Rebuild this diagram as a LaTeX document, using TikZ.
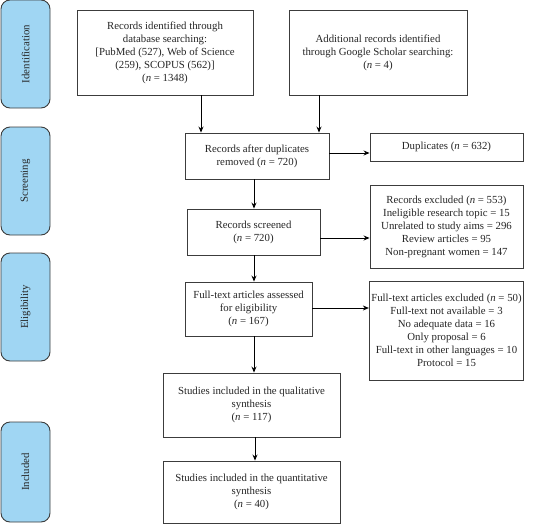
\documentclass[tikz,border=0pt]{standalone}
\usepackage{fontspec}
\setmainfont{Liberation Serif}
\usetikzlibrary{arrows.meta}
\definecolor{phase}{RGB}{160,214,243}
\definecolor{edge}{RGB}{60,60,60}
\tikzset{
  flowbox/.style={draw=edge, line width=0.9pt, fill=white, align=center, inner sep=2pt,
    font=\fontsize{10.8}{13}\selectfont, text=black!85},
  phasebox/.style={draw=edge, line width=0.9pt, fill=phase, rounded corners=9pt,
    minimum width=49pt},
  phaselabel/.style={rotate=90, font=\fontsize{10.8}{13}\selectfont, text=black!85},
  arr/.style={draw=black, line width=0.9pt, -{Stealth[length=6pt,width=5pt]}}
}
\newcommand{\nn}{\textit{n}}
\begin{document}
\begin{tikzpicture}[x=1pt,y=-1pt]
\useasboundingbox (0,0) rectangle (535,525);
% phase labels
\node[phasebox, minimum height=108pt] (pid) at (25.5,54) {};
\node[phaselabel] (tid) at (pid.center) {Identification};
\node[phasebox, minimum height=108pt] (psc) at (25.5,181) {};
\node[phaselabel] (tsc) at (psc.center) {Screening};
\node[phasebox, minimum height=108pt] (pel) at (25.5,307) {};
\node[phaselabel] (tel) at (pel.center) {Eligibility};
\node[phasebox, minimum height=100pt] (pin) at (25.5,472) {};
\node[phaselabel] (tin) at (pin.center) {Included};
% flow boxes
\node[flowbox, minimum width=176pt, minimum height=85pt] (id1) at (165,52.5)
  {Records identified through\\database searching:\\{[}PubMed (527), Web of Science\\(259), SCOPUS (562)]\\(\nn{} = 1348)};
\node[flowbox, minimum width=178pt, minimum height=85pt] (id2) at (378,52.5)
  {Additional records identified\\through Google Scholar searching:\\(\nn{} = 4)};
\node[flowbox, minimum width=144pt, minimum height=46pt] (dup) at (257,156)
  {Records after duplicates\\removed (\nn{} = 720)};
\node[flowbox, minimum width=153pt, minimum height=28pt] (dupx) at (446.5,147)
  {Duplicates (\nn{} = 632)};
\node[flowbox, minimum width=133pt, minimum height=46pt] (scr) at (253.5,232)
  {Records screened\\(\nn{} = 720)};
\node[flowbox, minimum width=153pt, minimum height=83pt] (scrx) at (446.5,226.5)
  {Records excluded (\nn{} = 553)\\Ineligible research topic = 15\\Unrelated to study aims = 296\\Review articles = 95\\Non-pregnant women = 147};
\node[flowbox, minimum width=127pt, minimum height=54pt] (full) at (248.5,309)
  {Full-text articles assessed\\for eligibility\\(\nn{} = 167)};
\node[flowbox, minimum width=153pt, minimum height=99pt] (fullx) at (446.5,330.5)
  {Full-text articles excluded (\nn{} = 50)\\Full-text not available = 3\\No adequate data = 16\\Only proposal = 6\\Full-text in other languages = 10\\Protocol = 15};
\node[flowbox, minimum width=177pt, minimum height=64pt] (qual) at (251.5,405)
  {Studies included in the qualitative\\synthesis\\(\nn{} = 117)};
\node[flowbox, minimum width=177pt, minimum height=62pt] (quant) at (251.5,492)
  {Studies included in the quantitative\\synthesis\\(\nn{} = 40)};
% guide coordinates
\coordinate (xa) at (201,0);
\coordinate (xb) at (319,0);
\coordinate (xc) at (254,0);
\coordinate (xd) at (255,0);
\coordinate (ya) at (0,153);
\coordinate (yb) at (0,238);
\coordinate (yc) at (0,308);
% connectors
\draw[arr] (id1.south -| xa) -- (dup.north -| xa);
\draw[arr] (id2.south -| xb) -- (dup.north -| xb);
\draw[arr] (dup.east |- ya) -- (dupx.west |- ya);
\draw[arr] (dup.south -| xc) -- (scr.north -| xc);
\draw[arr] (scr.east |- yb) -- (scrx.west |- yb);
\draw[arr] (scr.south -| xc) -- (full.north -| xc);
\draw[arr] (full.east |- yc) -- (fullx.west |- yc);
\draw[arr] (full.south -| xc) -- (qual.north -| xc);
\draw[arr] (qual.south -| xd) -- (quant.north -| xd);
\end{tikzpicture}
\end{document}
